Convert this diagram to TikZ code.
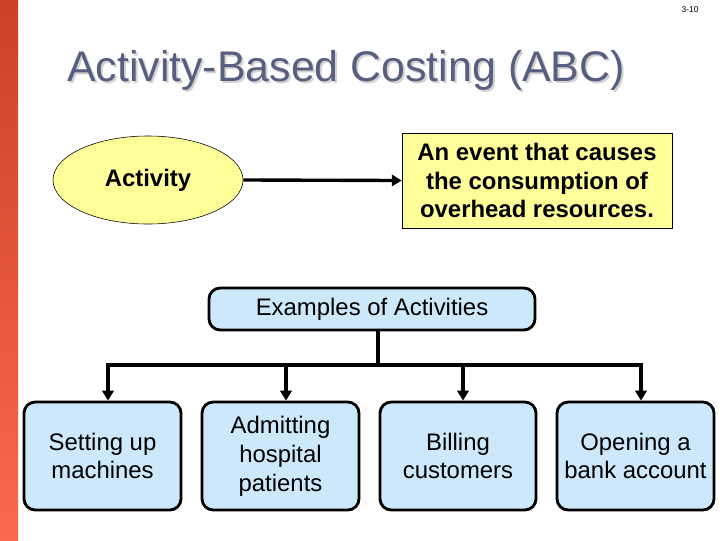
\documentclass[tikz,border=0pt]{standalone}
\usepackage{fontspec}
\setmainfont{Liberation Sans}
\usetikzlibrary{shapes.geometric, arrows.meta, positioning}
\definecolor{titlegray}{RGB}{88,94,128}
\definecolor{boxblue}{RGB}{204,232,250}
\definecolor{paleyellow}{RGB}{255,255,153}
\definecolor{bartop}{RGB}{205,65,40}
\definecolor{barbottom}{RGB}{250,105,75}

\begin{document}
\begin{tikzpicture}[
    x=0.025cm, y=-0.025cm,
    % Node styles
    example/.style={rectangle, draw, line width=2pt, rounded corners=8pt, fill=boxblue, align=center, font=\fontsize{17}{20.5}\selectfont},
    conn/.style={line width=2.4pt},
    arrow/.style={-{Triangle[length=7pt, width=8pt]}, line width=2.4pt},
]

% ============================================================================
% BACKGROUND AND TITLE
% ============================================================================
\useasboundingbox (0,0) rectangle (720,540);
\shade[top color=bartop, bottom color=barbottom] (0,0) rectangle (18,540);
\node[font=\fontsize{6}{7}\selectfont] (pagenum) at (690,10) {3-10};
\node[font=\fontsize{30.5}{34}\selectfont, text=gray!35] (titleshadow) at (348,72) {Activity-Based Costing (ABC)};
\node[font=\fontsize{30.5}{34}\selectfont, text=titlegray] (title) at (346,70) {Activity-Based Costing (ABC)};

% Activity and its definition
\node[ellipse, draw, thin, fill=paleyellow, minimum width=4.75cm, minimum height=2.2cm, font=\bfseries\fontsize{17}{20}\selectfont] (activity) at (148,180) {Activity};
\node[rectangle, draw, thin, fill=paleyellow, minimum width=6.75cm, minimum height=2.375cm, align=center, font=\bfseries\fontsize{17}{20.5}\selectfont] (event) at (537,180.5) {An event that causes\\the consumption of\\overhead resources.};
\draw[arrow] (activity.east) -- (event.west);

% ============================================================================
% EXAMPLES
% ============================================================================
\node[example, minimum width=8.15cm, minimum height=1.05cm] (examples) at (372,309) {Examples of Activities};

\node[example, minimum width=3.925cm, minimum height=2.7cm] (setup) at (102.5,456) {Setting up\\machines};
\node[example, minimum width=3.925cm, minimum height=2.7cm] (admit) at (280.5,456) {Admitting\\hospital\\patients};
\node[example, minimum width=3.9cm, minimum height=2.7cm] (billing) at (458,456) {Billing\\customers};
\node[example, minimum width=3.925cm, minimum height=2.7cm] (bank) at (635.5,456) {Opening a\\bank account};

% Tree connectors
\coordinate (split) at (378,365);
\coordinate (leftend) at (108,365);
\coordinate (rightend) at (641,365);
\draw[conn] (split |- examples.south) -- (split);
\draw[conn, line cap=rect] (leftend) -- (rightend);
\foreach \target/\x in {setup/108, admit/286, billing/463, bank/641} {
    \coordinate (top\target) at (\x,365);
    \draw[arrow] (top\target) -- (top\target |- \target.north);
}

\end{tikzpicture}
\end{document}
